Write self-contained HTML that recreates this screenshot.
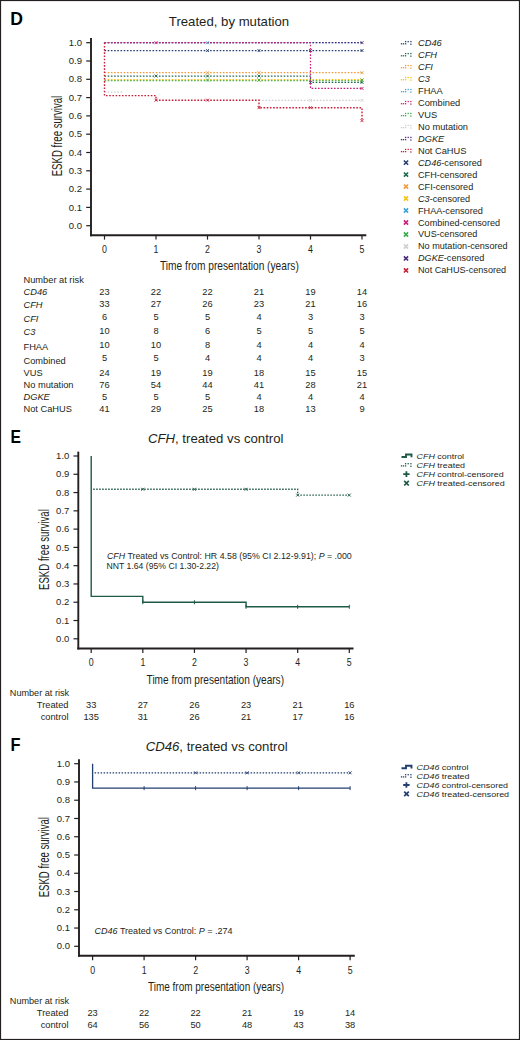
<!DOCTYPE html>
<html><head><meta charset="utf-8"><style>
html,body{margin:0;padding:0;background:#fff;}
body{width:520px;height:1040px;overflow:hidden;}
svg{display:block;font-family:"Liberation Sans",sans-serif;}
</style></head><body>
<svg width="520" height="1040" viewBox="0 0 520 1040">
<rect x="0" y="0" width="520" height="1040" fill="#fff"/>
<text x="10.3" y="24.6" font-size="17.6" text-anchor="start" fill="#000" font-weight="bold" >D</text>
<text transform="translate(229,25.9) scale(0.97,1)" font-size="13.6" text-anchor="middle" fill="#231f20" >Treated, by mutation</text>
<line x1="91" y1="38" x2="91" y2="236.14999999999998" stroke="#231f20" stroke-width="1.9" stroke-linecap="butt"/>
<line x1="90.05" y1="235.2" x2="366.3" y2="235.2" stroke="#231f20" stroke-width="1.9" stroke-linecap="butt"/>
<line x1="86.2" y1="42.69999999999999" x2="91" y2="42.69999999999999" stroke="#231f20" stroke-width="1.2" stroke-linecap="butt"/>
<text transform="translate(82.0,45.84999999999999) scale(0.97,1)" font-size="9.8" text-anchor="end" fill="#231f20" >1.0</text>
<line x1="86.2" y1="60.999999999999986" x2="91" y2="60.999999999999986" stroke="#231f20" stroke-width="1.2" stroke-linecap="butt"/>
<text transform="translate(82.0,64.14999999999999) scale(0.97,1)" font-size="9.8" text-anchor="end" fill="#231f20" >0.9</text>
<line x1="86.2" y1="79.29999999999998" x2="91" y2="79.29999999999998" stroke="#231f20" stroke-width="1.2" stroke-linecap="butt"/>
<text transform="translate(82.0,82.44999999999999) scale(0.97,1)" font-size="9.8" text-anchor="end" fill="#231f20" >0.8</text>
<line x1="86.2" y1="97.6" x2="91" y2="97.6" stroke="#231f20" stroke-width="1.2" stroke-linecap="butt"/>
<text transform="translate(82.0,100.75) scale(0.97,1)" font-size="9.8" text-anchor="end" fill="#231f20" >0.7</text>
<line x1="86.2" y1="115.89999999999999" x2="91" y2="115.89999999999999" stroke="#231f20" stroke-width="1.2" stroke-linecap="butt"/>
<text transform="translate(82.0,119.05) scale(0.97,1)" font-size="9.8" text-anchor="end" fill="#231f20" >0.6</text>
<line x1="86.2" y1="134.2" x2="91" y2="134.2" stroke="#231f20" stroke-width="1.2" stroke-linecap="butt"/>
<text transform="translate(82.0,137.35) scale(0.97,1)" font-size="9.8" text-anchor="end" fill="#231f20" >0.5</text>
<line x1="86.2" y1="152.5" x2="91" y2="152.5" stroke="#231f20" stroke-width="1.2" stroke-linecap="butt"/>
<text transform="translate(82.0,155.65) scale(0.97,1)" font-size="9.8" text-anchor="end" fill="#231f20" >0.4</text>
<line x1="86.2" y1="170.79999999999998" x2="91" y2="170.79999999999998" stroke="#231f20" stroke-width="1.2" stroke-linecap="butt"/>
<text transform="translate(82.0,173.95) scale(0.97,1)" font-size="9.8" text-anchor="end" fill="#231f20" >0.3</text>
<line x1="86.2" y1="189.1" x2="91" y2="189.1" stroke="#231f20" stroke-width="1.2" stroke-linecap="butt"/>
<text transform="translate(82.0,192.25) scale(0.97,1)" font-size="9.8" text-anchor="end" fill="#231f20" >0.2</text>
<line x1="86.2" y1="207.4" x2="91" y2="207.4" stroke="#231f20" stroke-width="1.2" stroke-linecap="butt"/>
<text transform="translate(82.0,210.55) scale(0.97,1)" font-size="9.8" text-anchor="end" fill="#231f20" >0.1</text>
<line x1="86.2" y1="225.7" x2="91" y2="225.7" stroke="#231f20" stroke-width="1.2" stroke-linecap="butt"/>
<text transform="translate(82.0,228.85) scale(0.97,1)" font-size="9.8" text-anchor="end" fill="#231f20" >0.0</text>
<line x1="104.5" y1="235.2" x2="104.5" y2="239.6" stroke="#231f20" stroke-width="1.2" stroke-linecap="butt"/>
<text transform="translate(104.5,252.6) scale(0.88,1)" font-size="10.0" text-anchor="middle" fill="#231f20" >0</text>
<line x1="156.0" y1="235.2" x2="156.0" y2="239.6" stroke="#231f20" stroke-width="1.2" stroke-linecap="butt"/>
<text transform="translate(156.0,252.6) scale(0.88,1)" font-size="10.0" text-anchor="middle" fill="#231f20" >1</text>
<line x1="207.5" y1="235.2" x2="207.5" y2="239.6" stroke="#231f20" stroke-width="1.2" stroke-linecap="butt"/>
<text transform="translate(207.5,252.6) scale(0.88,1)" font-size="10.0" text-anchor="middle" fill="#231f20" >2</text>
<line x1="259.0" y1="235.2" x2="259.0" y2="239.6" stroke="#231f20" stroke-width="1.2" stroke-linecap="butt"/>
<text transform="translate(259.0,252.6) scale(0.88,1)" font-size="10.0" text-anchor="middle" fill="#231f20" >3</text>
<line x1="310.5" y1="235.2" x2="310.5" y2="239.6" stroke="#231f20" stroke-width="1.2" stroke-linecap="butt"/>
<text transform="translate(310.5,252.6) scale(0.88,1)" font-size="10.0" text-anchor="middle" fill="#231f20" >4</text>
<line x1="362.0" y1="235.2" x2="362.0" y2="239.6" stroke="#231f20" stroke-width="1.2" stroke-linecap="butt"/>
<text transform="translate(362.0,252.6) scale(0.88,1)" font-size="10.0" text-anchor="middle" fill="#231f20" >5</text>
<text transform="translate(62.2,176.3) rotate(-90) scale(1.0,1)" font-size="14.2" text-anchor="start" fill="#231f20" textLength="80.5" lengthAdjust="spacingAndGlyphs" >ESKD free survival</text>
<text x="160.0" y="270.0" font-size="13" text-anchor="start" fill="#231f20" textLength="138.8" lengthAdjust="spacingAndGlyphs" >Time from presentation (years)</text>
<path d="M104.5,92.1H122.5V92.1" fill="none" stroke="#cfcfcf" stroke-width="1.25" stroke-dasharray="1.6 1.6" stroke-dashoffset="0"/>
<path d="M259.0,100.3H362.0V100.3" fill="none" stroke="#cfcfcf" stroke-width="1.25" stroke-dasharray="1.6 1.6" stroke-dashoffset="0"/>
<path d="M104.5,80.6H362.0V80.6" fill="none" stroke="#3bab4a" stroke-width="1.25" stroke-dasharray="1.6 1.6" stroke-dashoffset="0"/>
<path d="M104.5,79.5H362.0V79.5" fill="none" stroke="#f3c316" stroke-width="1.25" stroke-dasharray="1.6 1.6" stroke-dashoffset="0"/>
<path d="M104.5,72.7H362.0V72.7" fill="none" stroke="#f19a3a" stroke-width="1.25" stroke-dasharray="1.6 1.6" stroke-dashoffset="0"/>
<path d="M104.5,76.0H310.5V76.0H310.5V82.4H362.0V82.4" fill="none" stroke="#1c6b4f" stroke-width="1.25" stroke-dasharray="1.6 1.6" stroke-dashoffset="0"/>
<path d="M104.5,50.6H362.0V50.6" fill="none" stroke="#263f6e" stroke-width="1.25" stroke-dasharray="1.6 1.6" stroke-dashoffset="0"/>
<path d="M104.5,42.7H362.0V42.7" fill="none" stroke="#3ea3dc" stroke-width="1.25" stroke-dasharray="1.6 1.6" stroke-dashoffset="0"/>
<path d="M104.5,42.7H362.0V42.7" fill="none" stroke="#4b2a7b" stroke-width="1.25" stroke-dasharray="1.6 1.6" stroke-dashoffset="0"/>
<path d="M104.5,42.7H310.5V42.7H310.5V88.4H362.0V88.4" fill="none" stroke="#cc1f7a" stroke-width="1.25" stroke-dasharray="1.6 1.6" stroke-dashoffset="0"/>
<path d="M104.5,42.7H104.5V95.6H156.0V95.6H156.0V100.2H259.0V100.2H259.0V107.7H362.0V107.7H362.0V120.7" fill="none" stroke="#c8203a" stroke-width="1.4" stroke-dasharray="1.6 1.6" stroke-dashoffset="0"/>
<path d="M154.5,41.19999999999999L157.5,44.19999999999999M154.5,44.19999999999999L157.5,41.19999999999999" stroke="#cc1f7a" stroke-width="0.9" fill="none"/>
<path d="M206.0,41.19999999999999L209.0,44.19999999999999M206.0,44.19999999999999L209.0,41.19999999999999" stroke="#3ea3dc" stroke-width="0.9" fill="none"/>
<path d="M360.5,41.19999999999999L363.5,44.19999999999999M360.5,44.19999999999999L363.5,41.19999999999999" stroke="#4b2a7b" stroke-width="0.9" fill="none"/>
<path d="M206.0,49.06899999999999L209.0,52.06899999999999M206.0,52.06899999999999L209.0,49.06899999999999" stroke="#263f6e" stroke-width="0.9" fill="none"/>
<path d="M257.5,49.06899999999999L260.5,52.06899999999999M257.5,52.06899999999999L260.5,49.06899999999999" stroke="#263f6e" stroke-width="0.9" fill="none"/>
<path d="M309.0,49.06899999999999L312.0,52.06899999999999M309.0,52.06899999999999L312.0,49.06899999999999" stroke="#263f6e" stroke-width="0.9" fill="none"/>
<path d="M360.5,49.06899999999999L363.5,52.06899999999999M360.5,52.06899999999999L363.5,49.06899999999999" stroke="#263f6e" stroke-width="0.9" fill="none"/>
<path d="M154.5,74.506L157.5,77.506M154.5,77.506L157.5,74.506" stroke="#1c6b4f" stroke-width="0.9" fill="none"/>
<path d="M206.0,74.506L209.0,77.506M206.0,77.506L209.0,74.506" stroke="#1c6b4f" stroke-width="0.9" fill="none"/>
<path d="M257.5,74.506L260.5,77.506M257.5,77.506L260.5,74.506" stroke="#1c6b4f" stroke-width="0.9" fill="none"/>
<path d="M309.0,80.91099999999997L312.0,83.91099999999997M309.0,83.91099999999997L312.0,80.91099999999997" stroke="#1c6b4f" stroke-width="0.9" fill="none"/>
<path d="M360.5,80.91099999999997L363.5,83.91099999999997M360.5,83.91099999999997L363.5,80.91099999999997" stroke="#1c6b4f" stroke-width="0.9" fill="none"/>
<path d="M206.0,71.21199999999999L209.0,74.21199999999999M206.0,74.21199999999999L209.0,71.21199999999999" stroke="#f19a3a" stroke-width="0.9" fill="none"/>
<path d="M257.5,71.21199999999999L260.5,74.21199999999999M257.5,74.21199999999999L260.5,71.21199999999999" stroke="#f19a3a" stroke-width="0.9" fill="none"/>
<path d="M360.5,71.21199999999999L363.5,74.21199999999999M360.5,74.21199999999999L363.5,71.21199999999999" stroke="#f19a3a" stroke-width="0.9" fill="none"/>
<path d="M257.5,78.53199999999998L260.5,81.53199999999998M257.5,81.53199999999998L260.5,78.53199999999998" stroke="#f3c316" stroke-width="0.9" fill="none"/>
<path d="M360.5,78.53199999999998L363.5,81.53199999999998M360.5,81.53199999999998L363.5,78.53199999999998" stroke="#f3c316" stroke-width="0.9" fill="none"/>
<path d="M206.0,78.53199999999998L209.0,81.53199999999998M206.0,81.53199999999998L209.0,78.53199999999998" stroke="#3bab4a" stroke-width="0.9" fill="none"/>
<path d="M257.5,78.53199999999998L260.5,81.53199999999998M257.5,81.53199999999998L260.5,78.53199999999998" stroke="#3bab4a" stroke-width="0.9" fill="none"/>
<path d="M360.5,78.53199999999998L363.5,81.53199999999998M360.5,81.53199999999998L363.5,78.53199999999998" stroke="#3bab4a" stroke-width="0.9" fill="none"/>
<path d="M360.5,86.94999999999999L363.5,89.94999999999999M360.5,89.94999999999999L363.5,86.94999999999999" stroke="#cc1f7a" stroke-width="0.9" fill="none"/>
<path d="M154.5,98.66199999999998L157.5,101.66199999999998M154.5,101.66199999999998L157.5,98.66199999999998" stroke="#c8203a" stroke-width="0.9" fill="none"/>
<path d="M206.0,98.66199999999998L209.0,101.66199999999998M206.0,101.66199999999998L209.0,98.66199999999998" stroke="#c8203a" stroke-width="0.9" fill="none"/>
<path d="M257.5,106.16499999999999L260.5,109.16499999999999M257.5,109.16499999999999L260.5,106.16499999999999" stroke="#c8203a" stroke-width="0.9" fill="none"/>
<path d="M309.0,106.16499999999999L312.0,109.16499999999999M309.0,109.16499999999999L312.0,106.16499999999999" stroke="#c8203a" stroke-width="0.9" fill="none"/>
<path d="M360.5,119.158L363.5,122.158M360.5,122.158L363.5,119.158" stroke="#c8203a" stroke-width="0.9" fill="none"/>
<path d="M309.0,98.84499999999998L312.0,101.84499999999998M309.0,101.84499999999998L312.0,98.84499999999998" stroke="#cfcfcf" stroke-width="0.9" fill="none"/>
<path d="M360.5,98.84499999999998L363.5,101.84499999999998M360.5,101.84499999999998L363.5,98.84499999999998" stroke="#cfcfcf" stroke-width="0.9" fill="none"/>
<rect x="400.85" y="43.15" width="1.3" height="1.3" fill="#263f6e"/>
<rect x="402.85" y="43.15" width="1.3" height="1.3" fill="#263f6e"/>
<rect x="404.95" y="43.15" width="1.3" height="1.3" fill="#263f6e"/>
<rect x="404.95" y="40.95" width="1.3" height="1.3" fill="#263f6e"/>
<rect x="407.55" y="40.95" width="1.3" height="1.3" fill="#263f6e"/>
<rect x="410.25" y="40.95" width="1.3" height="1.3" fill="#263f6e"/>
<rect x="410.25" y="43.55" width="1.3" height="1.3" fill="#263f6e"/>
<text transform="translate(418,45.8) scale(1.08,1)" font-size="8.6" text-anchor="start" fill="#231f20"><tspan font-style="italic">CD46</tspan></text>
<rect x="400.85" y="55.13" width="1.3" height="1.3" fill="#1c6b4f"/>
<rect x="402.85" y="55.13" width="1.3" height="1.3" fill="#1c6b4f"/>
<rect x="404.95" y="55.13" width="1.3" height="1.3" fill="#1c6b4f"/>
<rect x="404.95" y="52.93" width="1.3" height="1.3" fill="#1c6b4f"/>
<rect x="407.55" y="52.93" width="1.3" height="1.3" fill="#1c6b4f"/>
<rect x="410.25" y="52.93" width="1.3" height="1.3" fill="#1c6b4f"/>
<rect x="410.25" y="55.53" width="1.3" height="1.3" fill="#1c6b4f"/>
<text transform="translate(418,57.78) scale(1.08,1)" font-size="8.6" text-anchor="start" fill="#231f20"><tspan font-style="italic">CFH</tspan></text>
<rect x="400.85" y="67.11" width="1.3" height="1.3" fill="#f19a3a"/>
<rect x="402.85" y="67.11" width="1.3" height="1.3" fill="#f19a3a"/>
<rect x="404.95" y="67.11" width="1.3" height="1.3" fill="#f19a3a"/>
<rect x="404.95" y="64.91" width="1.3" height="1.3" fill="#f19a3a"/>
<rect x="407.55" y="64.91" width="1.3" height="1.3" fill="#f19a3a"/>
<rect x="410.25" y="64.91" width="1.3" height="1.3" fill="#f19a3a"/>
<rect x="410.25" y="67.51" width="1.3" height="1.3" fill="#f19a3a"/>
<text transform="translate(418,69.75999999999999) scale(1.08,1)" font-size="8.6" text-anchor="start" fill="#231f20"><tspan font-style="italic">CFI</tspan></text>
<rect x="400.85" y="79.09" width="1.3" height="1.3" fill="#f3c316"/>
<rect x="402.85" y="79.09" width="1.3" height="1.3" fill="#f3c316"/>
<rect x="404.95" y="79.09" width="1.3" height="1.3" fill="#f3c316"/>
<rect x="404.95" y="76.89" width="1.3" height="1.3" fill="#f3c316"/>
<rect x="407.55" y="76.89" width="1.3" height="1.3" fill="#f3c316"/>
<rect x="410.25" y="76.89" width="1.3" height="1.3" fill="#f3c316"/>
<rect x="410.25" y="79.49" width="1.3" height="1.3" fill="#f3c316"/>
<text transform="translate(418,81.74) scale(1.08,1)" font-size="8.6" text-anchor="start" fill="#231f20"><tspan font-style="italic">C3</tspan></text>
<rect x="400.85" y="91.07" width="1.3" height="1.3" fill="#3ea3dc"/>
<rect x="402.85" y="91.07" width="1.3" height="1.3" fill="#3ea3dc"/>
<rect x="404.95" y="91.07" width="1.3" height="1.3" fill="#3ea3dc"/>
<rect x="404.95" y="88.87" width="1.3" height="1.3" fill="#3ea3dc"/>
<rect x="407.55" y="88.87" width="1.3" height="1.3" fill="#3ea3dc"/>
<rect x="410.25" y="88.87" width="1.3" height="1.3" fill="#3ea3dc"/>
<rect x="410.25" y="91.47" width="1.3" height="1.3" fill="#3ea3dc"/>
<text transform="translate(418,93.72) scale(1.08,1)" font-size="8.6" text-anchor="start" fill="#231f20">FHAA</text>
<rect x="400.85" y="103.05" width="1.3" height="1.3" fill="#cc1f7a"/>
<rect x="402.85" y="103.05" width="1.3" height="1.3" fill="#cc1f7a"/>
<rect x="404.95" y="103.05" width="1.3" height="1.3" fill="#cc1f7a"/>
<rect x="404.95" y="100.85" width="1.3" height="1.3" fill="#cc1f7a"/>
<rect x="407.55" y="100.85" width="1.3" height="1.3" fill="#cc1f7a"/>
<rect x="410.25" y="100.85" width="1.3" height="1.3" fill="#cc1f7a"/>
<rect x="410.25" y="103.45" width="1.3" height="1.3" fill="#cc1f7a"/>
<text transform="translate(418,105.7) scale(1.08,1)" font-size="8.6" text-anchor="start" fill="#231f20">Combined</text>
<rect x="400.85" y="115.03" width="1.3" height="1.3" fill="#3bab4a"/>
<rect x="402.85" y="115.03" width="1.3" height="1.3" fill="#3bab4a"/>
<rect x="404.95" y="115.03" width="1.3" height="1.3" fill="#3bab4a"/>
<rect x="404.95" y="112.83" width="1.3" height="1.3" fill="#3bab4a"/>
<rect x="407.55" y="112.83" width="1.3" height="1.3" fill="#3bab4a"/>
<rect x="410.25" y="112.83" width="1.3" height="1.3" fill="#3bab4a"/>
<rect x="410.25" y="115.43" width="1.3" height="1.3" fill="#3bab4a"/>
<text transform="translate(418,117.67999999999999) scale(1.08,1)" font-size="8.6" text-anchor="start" fill="#231f20">VUS</text>
<rect x="400.85" y="127.01" width="1.3" height="1.3" fill="#cfcfcf"/>
<rect x="402.85" y="127.01" width="1.3" height="1.3" fill="#cfcfcf"/>
<rect x="404.95" y="127.01" width="1.3" height="1.3" fill="#cfcfcf"/>
<rect x="404.95" y="124.81" width="1.3" height="1.3" fill="#cfcfcf"/>
<rect x="407.55" y="124.81" width="1.3" height="1.3" fill="#cfcfcf"/>
<rect x="410.25" y="124.81" width="1.3" height="1.3" fill="#cfcfcf"/>
<rect x="410.25" y="127.41" width="1.3" height="1.3" fill="#cfcfcf"/>
<text transform="translate(418,129.66) scale(1.08,1)" font-size="8.6" text-anchor="start" fill="#231f20">No mutation</text>
<rect x="400.85" y="138.99" width="1.3" height="1.3" fill="#4b2a7b"/>
<rect x="402.85" y="138.99" width="1.3" height="1.3" fill="#4b2a7b"/>
<rect x="404.95" y="138.99" width="1.3" height="1.3" fill="#4b2a7b"/>
<rect x="404.95" y="136.79" width="1.3" height="1.3" fill="#4b2a7b"/>
<rect x="407.55" y="136.79" width="1.3" height="1.3" fill="#4b2a7b"/>
<rect x="410.25" y="136.79" width="1.3" height="1.3" fill="#4b2a7b"/>
<rect x="410.25" y="139.39" width="1.3" height="1.3" fill="#4b2a7b"/>
<text transform="translate(418,141.64) scale(1.08,1)" font-size="8.6" text-anchor="start" fill="#231f20"><tspan font-style="italic">DGKE</tspan></text>
<rect x="400.85" y="150.97" width="1.3" height="1.3" fill="#c8203a"/>
<rect x="402.85" y="150.97" width="1.3" height="1.3" fill="#c8203a"/>
<rect x="404.95" y="150.97" width="1.3" height="1.3" fill="#c8203a"/>
<rect x="404.95" y="148.77" width="1.3" height="1.3" fill="#c8203a"/>
<rect x="407.55" y="148.77" width="1.3" height="1.3" fill="#c8203a"/>
<rect x="410.25" y="148.77" width="1.3" height="1.3" fill="#c8203a"/>
<rect x="410.25" y="151.37" width="1.3" height="1.3" fill="#c8203a"/>
<text transform="translate(418,153.62) scale(1.08,1)" font-size="8.6" text-anchor="start" fill="#231f20">Not CaHUS</text>
<path d="M403.9,160.50000000000003L408.1,164.70000000000002M403.9,164.70000000000002L408.1,160.50000000000003" stroke="#263f6e" stroke-width="1.6" fill="none"/>
<text transform="translate(418,165.60000000000002) scale(1.06,1)" font-size="8.6" text-anchor="start" fill="#231f20"><tspan font-style="italic">CD46</tspan>-censored</text>
<path d="M403.9,172.48L408.1,176.67999999999998M403.9,176.67999999999998L408.1,172.48" stroke="#1c6b4f" stroke-width="1.6" fill="none"/>
<text transform="translate(418,177.57999999999998) scale(1.06,1)" font-size="8.6" text-anchor="start" fill="#231f20">CFH-censored</text>
<path d="M403.9,184.46L408.1,188.66M403.9,188.66L408.1,184.46" stroke="#f19a3a" stroke-width="1.6" fill="none"/>
<text transform="translate(418,189.56) scale(1.06,1)" font-size="8.6" text-anchor="start" fill="#231f20">CFI-censored</text>
<path d="M403.9,196.44000000000003L408.1,200.64000000000001M403.9,200.64000000000001L408.1,196.44000000000003" stroke="#f3c316" stroke-width="1.6" fill="none"/>
<text transform="translate(418,201.54000000000002) scale(1.06,1)" font-size="8.6" text-anchor="start" fill="#231f20"><tspan font-style="italic">C3</tspan>-censored</text>
<path d="M403.9,208.42L408.1,212.61999999999998M403.9,212.61999999999998L408.1,208.42" stroke="#3ea3dc" stroke-width="1.6" fill="none"/>
<text transform="translate(418,213.51999999999998) scale(1.06,1)" font-size="8.6" text-anchor="start" fill="#231f20">FHAA-censored</text>
<path d="M403.9,220.4L408.1,224.6M403.9,224.6L408.1,220.4" stroke="#cc1f7a" stroke-width="1.6" fill="none"/>
<text transform="translate(418,225.5) scale(1.06,1)" font-size="8.6" text-anchor="start" fill="#231f20">Combined-censored</text>
<path d="M403.9,232.38000000000002L408.1,236.58M403.9,236.58L408.1,232.38000000000002" stroke="#3bab4a" stroke-width="1.6" fill="none"/>
<text transform="translate(418,237.48000000000002) scale(1.06,1)" font-size="8.6" text-anchor="start" fill="#231f20">VUS-censored</text>
<path d="M403.9,244.35999999999999L408.1,248.55999999999997M403.9,248.55999999999997L408.1,244.35999999999999" stroke="#cfcfcf" stroke-width="1.6" fill="none"/>
<text transform="translate(418,249.45999999999998) scale(1.06,1)" font-size="8.6" text-anchor="start" fill="#231f20">No mutation-censored</text>
<path d="M403.9,256.34L408.1,260.54M403.9,260.54L408.1,256.34" stroke="#4b2a7b" stroke-width="1.6" fill="none"/>
<text transform="translate(418,261.44) scale(1.06,1)" font-size="8.6" text-anchor="start" fill="#231f20"><tspan font-style="italic">DGKE</tspan>-censored</text>
<path d="M403.9,268.32L408.1,272.52000000000004M403.9,272.52000000000004L408.1,268.32" stroke="#c8203a" stroke-width="1.6" fill="none"/>
<text transform="translate(418,273.42) scale(1.06,1)" font-size="8.6" text-anchor="start" fill="#231f20">Not CaHUS-censored</text>
<text transform="translate(23.5,282.6) scale(1.08,1)" font-size="8.6" text-anchor="start" fill="#231f20">Number at risk</text>
<text transform="translate(23.5,295.3) scale(1.08,1)" font-size="8.6" text-anchor="start" fill="#231f20"><tspan font-style="italic">CD46</tspan></text>
<text transform="translate(104.5,295.0) scale(1.08,1)" font-size="8.6" text-anchor="middle" fill="#231f20">23</text>
<text transform="translate(156.0,295.0) scale(1.08,1)" font-size="8.6" text-anchor="middle" fill="#231f20">22</text>
<text transform="translate(207.5,295.0) scale(1.08,1)" font-size="8.6" text-anchor="middle" fill="#231f20">22</text>
<text transform="translate(259.0,295.0) scale(1.08,1)" font-size="8.6" text-anchor="middle" fill="#231f20">21</text>
<text transform="translate(310.5,295.0) scale(1.08,1)" font-size="8.6" text-anchor="middle" fill="#231f20">19</text>
<text transform="translate(362.0,295.0) scale(1.08,1)" font-size="8.6" text-anchor="middle" fill="#231f20">14</text>
<text transform="translate(23.5,307.5) scale(1.08,1)" font-size="8.6" text-anchor="start" fill="#231f20"><tspan font-style="italic">CFH</tspan></text>
<text transform="translate(104.5,307.1) scale(1.08,1)" font-size="8.6" text-anchor="middle" fill="#231f20">33</text>
<text transform="translate(156.0,307.1) scale(1.08,1)" font-size="8.6" text-anchor="middle" fill="#231f20">27</text>
<text transform="translate(207.5,307.1) scale(1.08,1)" font-size="8.6" text-anchor="middle" fill="#231f20">26</text>
<text transform="translate(259.0,307.1) scale(1.08,1)" font-size="8.6" text-anchor="middle" fill="#231f20">23</text>
<text transform="translate(310.5,307.1) scale(1.08,1)" font-size="8.6" text-anchor="middle" fill="#231f20">21</text>
<text transform="translate(362.0,307.1) scale(1.08,1)" font-size="8.6" text-anchor="middle" fill="#231f20">16</text>
<text transform="translate(23.5,321.5) scale(1.08,1)" font-size="8.6" text-anchor="start" fill="#231f20"><tspan font-style="italic">CFI</tspan></text>
<text transform="translate(104.5,319.5) scale(1.08,1)" font-size="8.6" text-anchor="middle" fill="#231f20">6</text>
<text transform="translate(156.0,319.5) scale(1.08,1)" font-size="8.6" text-anchor="middle" fill="#231f20">5</text>
<text transform="translate(207.5,319.5) scale(1.08,1)" font-size="8.6" text-anchor="middle" fill="#231f20">5</text>
<text transform="translate(259.0,319.5) scale(1.08,1)" font-size="8.6" text-anchor="middle" fill="#231f20">4</text>
<text transform="translate(310.5,319.5) scale(1.08,1)" font-size="8.6" text-anchor="middle" fill="#231f20">3</text>
<text transform="translate(362.0,319.5) scale(1.08,1)" font-size="8.6" text-anchor="middle" fill="#231f20">3</text>
<text transform="translate(23.5,334.70000000000005) scale(1.08,1)" font-size="8.6" text-anchor="start" fill="#231f20"><tspan font-style="italic">C3</tspan></text>
<text transform="translate(104.5,333.5) scale(1.08,1)" font-size="8.6" text-anchor="middle" fill="#231f20">10</text>
<text transform="translate(156.0,333.5) scale(1.08,1)" font-size="8.6" text-anchor="middle" fill="#231f20">8</text>
<text transform="translate(207.5,333.5) scale(1.08,1)" font-size="8.6" text-anchor="middle" fill="#231f20">6</text>
<text transform="translate(259.0,333.5) scale(1.08,1)" font-size="8.6" text-anchor="middle" fill="#231f20">5</text>
<text transform="translate(310.5,333.5) scale(1.08,1)" font-size="8.6" text-anchor="middle" fill="#231f20">5</text>
<text transform="translate(362.0,333.5) scale(1.08,1)" font-size="8.6" text-anchor="middle" fill="#231f20">5</text>
<text transform="translate(23.5,349.5) scale(1.08,1)" font-size="8.6" text-anchor="start" fill="#231f20">FHAA</text>
<text transform="translate(104.5,347.5) scale(1.08,1)" font-size="8.6" text-anchor="middle" fill="#231f20">10</text>
<text transform="translate(156.0,347.5) scale(1.08,1)" font-size="8.6" text-anchor="middle" fill="#231f20">10</text>
<text transform="translate(207.5,347.5) scale(1.08,1)" font-size="8.6" text-anchor="middle" fill="#231f20">8</text>
<text transform="translate(259.0,347.5) scale(1.08,1)" font-size="8.6" text-anchor="middle" fill="#231f20">4</text>
<text transform="translate(310.5,347.5) scale(1.08,1)" font-size="8.6" text-anchor="middle" fill="#231f20">4</text>
<text transform="translate(362.0,347.5) scale(1.08,1)" font-size="8.6" text-anchor="middle" fill="#231f20">4</text>
<text transform="translate(23.5,364.0) scale(1.08,1)" font-size="8.6" text-anchor="start" fill="#231f20">Combined</text>
<text transform="translate(104.5,360.90000000000003) scale(1.08,1)" font-size="8.6" text-anchor="middle" fill="#231f20">5</text>
<text transform="translate(156.0,360.90000000000003) scale(1.08,1)" font-size="8.6" text-anchor="middle" fill="#231f20">5</text>
<text transform="translate(207.5,360.90000000000003) scale(1.08,1)" font-size="8.6" text-anchor="middle" fill="#231f20">4</text>
<text transform="translate(259.0,360.90000000000003) scale(1.08,1)" font-size="8.6" text-anchor="middle" fill="#231f20">4</text>
<text transform="translate(310.5,360.90000000000003) scale(1.08,1)" font-size="8.6" text-anchor="middle" fill="#231f20">4</text>
<text transform="translate(362.0,360.90000000000003) scale(1.08,1)" font-size="8.6" text-anchor="middle" fill="#231f20">3</text>
<text transform="translate(23.5,375.90000000000003) scale(1.08,1)" font-size="8.6" text-anchor="start" fill="#231f20">VUS</text>
<text transform="translate(104.5,375.8) scale(1.08,1)" font-size="8.6" text-anchor="middle" fill="#231f20">24</text>
<text transform="translate(156.0,375.8) scale(1.08,1)" font-size="8.6" text-anchor="middle" fill="#231f20">19</text>
<text transform="translate(207.5,375.8) scale(1.08,1)" font-size="8.6" text-anchor="middle" fill="#231f20">19</text>
<text transform="translate(259.0,375.8) scale(1.08,1)" font-size="8.6" text-anchor="middle" fill="#231f20">18</text>
<text transform="translate(310.5,375.8) scale(1.08,1)" font-size="8.6" text-anchor="middle" fill="#231f20">15</text>
<text transform="translate(362.0,375.8) scale(1.08,1)" font-size="8.6" text-anchor="middle" fill="#231f20">15</text>
<text transform="translate(23.5,387.8) scale(1.08,1)" font-size="8.6" text-anchor="start" fill="#231f20">No mutation</text>
<text transform="translate(104.5,387.8) scale(1.08,1)" font-size="8.6" text-anchor="middle" fill="#231f20">76</text>
<text transform="translate(156.0,387.8) scale(1.08,1)" font-size="8.6" text-anchor="middle" fill="#231f20">54</text>
<text transform="translate(207.5,387.8) scale(1.08,1)" font-size="8.6" text-anchor="middle" fill="#231f20">44</text>
<text transform="translate(259.0,387.8) scale(1.08,1)" font-size="8.6" text-anchor="middle" fill="#231f20">41</text>
<text transform="translate(310.5,387.8) scale(1.08,1)" font-size="8.6" text-anchor="middle" fill="#231f20">28</text>
<text transform="translate(362.0,387.8) scale(1.08,1)" font-size="8.6" text-anchor="middle" fill="#231f20">21</text>
<text transform="translate(23.5,399.90000000000003) scale(1.08,1)" font-size="8.6" text-anchor="start" fill="#231f20"><tspan font-style="italic">DGKE</tspan></text>
<text transform="translate(104.5,399.90000000000003) scale(1.08,1)" font-size="8.6" text-anchor="middle" fill="#231f20">5</text>
<text transform="translate(156.0,399.90000000000003) scale(1.08,1)" font-size="8.6" text-anchor="middle" fill="#231f20">5</text>
<text transform="translate(207.5,399.90000000000003) scale(1.08,1)" font-size="8.6" text-anchor="middle" fill="#231f20">5</text>
<text transform="translate(259.0,399.90000000000003) scale(1.08,1)" font-size="8.6" text-anchor="middle" fill="#231f20">4</text>
<text transform="translate(310.5,399.90000000000003) scale(1.08,1)" font-size="8.6" text-anchor="middle" fill="#231f20">4</text>
<text transform="translate(362.0,399.90000000000003) scale(1.08,1)" font-size="8.6" text-anchor="middle" fill="#231f20">4</text>
<text transform="translate(23.5,411.5) scale(1.08,1)" font-size="8.6" text-anchor="start" fill="#231f20">Not CaHUS</text>
<text transform="translate(104.5,411.5) scale(1.08,1)" font-size="8.6" text-anchor="middle" fill="#231f20">41</text>
<text transform="translate(156.0,411.5) scale(1.08,1)" font-size="8.6" text-anchor="middle" fill="#231f20">29</text>
<text transform="translate(207.5,411.5) scale(1.08,1)" font-size="8.6" text-anchor="middle" fill="#231f20">25</text>
<text transform="translate(259.0,411.5) scale(1.08,1)" font-size="8.6" text-anchor="middle" fill="#231f20">18</text>
<text transform="translate(310.5,411.5) scale(1.08,1)" font-size="8.6" text-anchor="middle" fill="#231f20">13</text>
<text transform="translate(362.0,411.5) scale(1.08,1)" font-size="8.6" text-anchor="middle" fill="#231f20">9</text>
<text transform="translate(10.4,442.5) scale(0.89,1)" font-size="17.6" text-anchor="start" fill="#000" font-weight="bold" >E</text>
<text transform="translate(215.7,443.4) scale(1.03,1)" font-size="12.8" text-anchor="middle" fill="#231f20"><tspan font-style="italic">CFH</tspan>, treated vs control</text>
<line x1="78.3" y1="451.6" x2="78.3" y2="649.45" stroke="#231f20" stroke-width="1.9" stroke-linecap="butt"/>
<line x1="77.35" y1="648.5" x2="353.5" y2="648.5" stroke="#231f20" stroke-width="1.9" stroke-linecap="butt"/>
<line x1="73.5" y1="455.99999999999994" x2="78.3" y2="455.99999999999994" stroke="#231f20" stroke-width="1.2" stroke-linecap="butt"/>
<text transform="translate(69.3,459.1499999999999) scale(0.97,1)" font-size="9.8" text-anchor="end" fill="#231f20" >1.0</text>
<line x1="73.5" y1="474.28" x2="78.3" y2="474.28" stroke="#231f20" stroke-width="1.2" stroke-linecap="butt"/>
<text transform="translate(69.3,477.42999999999995) scale(0.97,1)" font-size="9.8" text-anchor="end" fill="#231f20" >0.9</text>
<line x1="73.5" y1="492.55999999999995" x2="78.3" y2="492.55999999999995" stroke="#231f20" stroke-width="1.2" stroke-linecap="butt"/>
<text transform="translate(69.3,495.7099999999999) scale(0.97,1)" font-size="9.8" text-anchor="end" fill="#231f20" >0.8</text>
<line x1="73.5" y1="510.8399999999999" x2="78.3" y2="510.8399999999999" stroke="#231f20" stroke-width="1.2" stroke-linecap="butt"/>
<text transform="translate(69.3,513.9899999999999) scale(0.97,1)" font-size="9.8" text-anchor="end" fill="#231f20" >0.7</text>
<line x1="73.5" y1="529.1199999999999" x2="78.3" y2="529.1199999999999" stroke="#231f20" stroke-width="1.2" stroke-linecap="butt"/>
<text transform="translate(69.3,532.2699999999999) scale(0.97,1)" font-size="9.8" text-anchor="end" fill="#231f20" >0.6</text>
<line x1="73.5" y1="547.4" x2="78.3" y2="547.4" stroke="#231f20" stroke-width="1.2" stroke-linecap="butt"/>
<text transform="translate(69.3,550.55) scale(0.97,1)" font-size="9.8" text-anchor="end" fill="#231f20" >0.5</text>
<line x1="73.5" y1="565.68" x2="78.3" y2="565.68" stroke="#231f20" stroke-width="1.2" stroke-linecap="butt"/>
<text transform="translate(69.3,568.8299999999999) scale(0.97,1)" font-size="9.8" text-anchor="end" fill="#231f20" >0.4</text>
<line x1="73.5" y1="583.9599999999999" x2="78.3" y2="583.9599999999999" stroke="#231f20" stroke-width="1.2" stroke-linecap="butt"/>
<text transform="translate(69.3,587.1099999999999) scale(0.97,1)" font-size="9.8" text-anchor="end" fill="#231f20" >0.3</text>
<line x1="73.5" y1="602.24" x2="78.3" y2="602.24" stroke="#231f20" stroke-width="1.2" stroke-linecap="butt"/>
<text transform="translate(69.3,605.39) scale(0.97,1)" font-size="9.8" text-anchor="end" fill="#231f20" >0.2</text>
<line x1="73.5" y1="620.52" x2="78.3" y2="620.52" stroke="#231f20" stroke-width="1.2" stroke-linecap="butt"/>
<text transform="translate(69.3,623.67) scale(0.97,1)" font-size="9.8" text-anchor="end" fill="#231f20" >0.1</text>
<line x1="73.5" y1="638.8" x2="78.3" y2="638.8" stroke="#231f20" stroke-width="1.2" stroke-linecap="butt"/>
<text transform="translate(69.3,641.9499999999999) scale(0.97,1)" font-size="9.8" text-anchor="end" fill="#231f20" >0.0</text>
<line x1="91.2" y1="648.5" x2="91.2" y2="652.9" stroke="#231f20" stroke-width="1.2" stroke-linecap="butt"/>
<text transform="translate(91.2,666.1) scale(0.88,1)" font-size="10.0" text-anchor="middle" fill="#231f20" >0</text>
<line x1="142.82" y1="648.5" x2="142.82" y2="652.9" stroke="#231f20" stroke-width="1.2" stroke-linecap="butt"/>
<text transform="translate(142.82,666.1) scale(0.88,1)" font-size="10.0" text-anchor="middle" fill="#231f20" >1</text>
<line x1="194.44" y1="648.5" x2="194.44" y2="652.9" stroke="#231f20" stroke-width="1.2" stroke-linecap="butt"/>
<text transform="translate(194.44,666.1) scale(0.88,1)" font-size="10.0" text-anchor="middle" fill="#231f20" >2</text>
<line x1="246.06" y1="648.5" x2="246.06" y2="652.9" stroke="#231f20" stroke-width="1.2" stroke-linecap="butt"/>
<text transform="translate(246.06,666.1) scale(0.88,1)" font-size="10.0" text-anchor="middle" fill="#231f20" >3</text>
<line x1="297.68" y1="648.5" x2="297.68" y2="652.9" stroke="#231f20" stroke-width="1.2" stroke-linecap="butt"/>
<text transform="translate(297.68,666.1) scale(0.88,1)" font-size="10.0" text-anchor="middle" fill="#231f20" >4</text>
<line x1="349.29999999999995" y1="648.5" x2="349.29999999999995" y2="652.9" stroke="#231f20" stroke-width="1.2" stroke-linecap="butt"/>
<text transform="translate(349.29999999999995,666.1) scale(0.88,1)" font-size="10.0" text-anchor="middle" fill="#231f20" >5</text>
<text transform="translate(49.1,590.0) rotate(-90) scale(1.0,1)" font-size="14.2" text-anchor="start" fill="#231f20" textLength="80.8" lengthAdjust="spacingAndGlyphs" >ESKD free survival</text>
<text x="146.6" y="683.5" font-size="13" text-anchor="start" fill="#231f20" textLength="137.4" lengthAdjust="spacingAndGlyphs" >Time from presentation (years)</text>
<path d="M91.2,455.99999999999994V596.3904H142.82V602.24H246.06V606.81H349.29999999999995" fill="none" stroke="#1e5b45" stroke-width="1.4" opacity="1"/>
<path d="M93.2,489.26959999999997H297.68V495.1192H349.29999999999995" fill="none" stroke="#1e5b45" stroke-width="1.3" stroke-dasharray="1.5 1.5" opacity="1"/>
<path d="M142.82,600.24V604.24" stroke="#1e5b45" stroke-width="1.0" fill="none"/>
<path d="M194.44,600.24V604.24" stroke="#1e5b45" stroke-width="1.0" fill="none"/>
<path d="M246.06,604.81V608.81" stroke="#1e5b45" stroke-width="1.0" fill="none"/>
<path d="M297.68,604.81V608.81" stroke="#1e5b45" stroke-width="1.0" fill="none"/>
<path d="M349.29999999999995,604.81V608.81" stroke="#1e5b45" stroke-width="1.0" fill="none"/>
<path d="M141.32,487.76959999999997L144.32,490.76959999999997M141.32,490.76959999999997L144.32,487.76959999999997" stroke="#1e5b45" stroke-width="0.9" fill="none"/>
<path d="M192.94,487.76959999999997L195.94,490.76959999999997M192.94,490.76959999999997L195.94,487.76959999999997" stroke="#1e5b45" stroke-width="0.9" fill="none"/>
<path d="M244.56,487.76959999999997L247.56,490.76959999999997M244.56,490.76959999999997L247.56,487.76959999999997" stroke="#1e5b45" stroke-width="0.9" fill="none"/>
<path d="M296.18,493.6192L299.18,496.6192M296.18,496.6192L299.18,493.6192" stroke="#1e5b45" stroke-width="0.9" fill="none"/>
<path d="M347.79999999999995,493.6192L350.79999999999995,496.6192M347.79999999999995,496.6192L350.79999999999995,493.6192" stroke="#1e5b45" stroke-width="0.9" fill="none"/>
<text transform="translate(107,558.7) scale(1.05,1)" font-size="8.4" text-anchor="start" fill="#231f20"><tspan font-style="italic">CFH</tspan> Treated vs Control: HR 4.58 (95% CI 2.12-9.91); <tspan font-style="italic">P</tspan> = .000</text>
<text transform="translate(106.6,568.7) scale(1.03,1)" font-size="8.4" text-anchor="start" fill="#231f20">NNT 1.64 (95% CI 1.30-2.22)</text>
<path d="M401.5,457.0H406V454.5H411.5V457.3" fill="none" stroke="#1e5b45" stroke-width="1.9" opacity="1"/>
<rect x="400.85" y="465.25" width="1.3" height="1.3" fill="#1e5b45"/>
<rect x="402.85" y="465.25" width="1.3" height="1.3" fill="#1e5b45"/>
<rect x="404.95" y="465.25" width="1.3" height="1.3" fill="#1e5b45"/>
<rect x="404.95" y="463.05" width="1.3" height="1.3" fill="#1e5b45"/>
<rect x="407.55" y="463.05" width="1.3" height="1.3" fill="#1e5b45"/>
<rect x="410.25" y="463.05" width="1.3" height="1.3" fill="#1e5b45"/>
<rect x="410.25" y="465.65" width="1.3" height="1.3" fill="#1e5b45"/>
<path d="M406.4,471.3V476.90000000000003M403.2,474.1H409.6" stroke="#1e5b45" stroke-width="1.8"/>
<path d="M404.2,480.9L408.8,485.5M404.2,485.5L408.8,480.9" stroke="#1e5b45" stroke-width="1.7" fill="none"/>
<text transform="translate(416.6,458.59999999999997) scale(1.1,1)" font-size="8.1" text-anchor="start" fill="#231f20"><tspan font-style="italic">CFH</tspan> control</text>
<text transform="translate(416.6,467.79999999999995) scale(1.1,1)" font-size="8.1" text-anchor="start" fill="#231f20"><tspan font-style="italic">CFH</tspan> treated</text>
<text transform="translate(416.6,477.0) scale(1.1,1)" font-size="8.1" text-anchor="start" fill="#231f20"><tspan font-style="italic">CFH</tspan> control-censored</text>
<text transform="translate(416.6,486.09999999999997) scale(1.1,1)" font-size="8.1" text-anchor="start" fill="#231f20"><tspan font-style="italic">CFH</tspan> treated-censored</text>
<text transform="translate(9.8,696.4) scale(1.06,1)" font-size="8.6" text-anchor="start" fill="#231f20">Number at risk</text>
<text transform="translate(68.5,708) scale(1.08,1)" font-size="8.6" text-anchor="end" fill="#231f20">Treated</text>
<text transform="translate(68.5,720.3) scale(1.08,1)" font-size="8.6" text-anchor="end" fill="#231f20">control</text>
<text transform="translate(91.2,708) scale(1.08,1)" font-size="8.6" text-anchor="middle" fill="#231f20">33</text>
<text transform="translate(91.2,720.3) scale(1.08,1)" font-size="8.6" text-anchor="middle" fill="#231f20">135</text>
<text transform="translate(142.82,708) scale(1.08,1)" font-size="8.6" text-anchor="middle" fill="#231f20">27</text>
<text transform="translate(142.82,720.3) scale(1.08,1)" font-size="8.6" text-anchor="middle" fill="#231f20">31</text>
<text transform="translate(194.44,708) scale(1.08,1)" font-size="8.6" text-anchor="middle" fill="#231f20">26</text>
<text transform="translate(194.44,720.3) scale(1.08,1)" font-size="8.6" text-anchor="middle" fill="#231f20">26</text>
<text transform="translate(246.06,708) scale(1.08,1)" font-size="8.6" text-anchor="middle" fill="#231f20">23</text>
<text transform="translate(246.06,720.3) scale(1.08,1)" font-size="8.6" text-anchor="middle" fill="#231f20">21</text>
<text transform="translate(297.68,708) scale(1.08,1)" font-size="8.6" text-anchor="middle" fill="#231f20">21</text>
<text transform="translate(297.68,720.3) scale(1.08,1)" font-size="8.6" text-anchor="middle" fill="#231f20">17</text>
<text transform="translate(349.29999999999995,708) scale(1.08,1)" font-size="8.6" text-anchor="middle" fill="#231f20">16</text>
<text transform="translate(349.29999999999995,720.3) scale(1.08,1)" font-size="8.6" text-anchor="middle" fill="#231f20">16</text>
<text transform="translate(10.4,750.7) scale(0.93,1)" font-size="17.6" text-anchor="start" fill="#000" font-weight="bold" >F</text>
<text transform="translate(216.7,750.8) scale(1.03,1)" font-size="12.8" text-anchor="middle" fill="#231f20"><tspan font-style="italic">CD46</tspan>, treated vs control</text>
<line x1="79" y1="759.3" x2="79" y2="956.75" stroke="#231f20" stroke-width="1.9" stroke-linecap="butt"/>
<line x1="78.05" y1="955.8" x2="354.8" y2="955.8" stroke="#231f20" stroke-width="1.9" stroke-linecap="butt"/>
<line x1="74.2" y1="763.6999999999999" x2="79" y2="763.6999999999999" stroke="#231f20" stroke-width="1.2" stroke-linecap="butt"/>
<text transform="translate(70.0,766.8499999999999) scale(0.97,1)" font-size="9.8" text-anchor="end" fill="#231f20" >1.0</text>
<line x1="74.2" y1="781.9599999999999" x2="79" y2="781.9599999999999" stroke="#231f20" stroke-width="1.2" stroke-linecap="butt"/>
<text transform="translate(70.0,785.1099999999999) scale(0.97,1)" font-size="9.8" text-anchor="end" fill="#231f20" >0.9</text>
<line x1="74.2" y1="800.2199999999999" x2="79" y2="800.2199999999999" stroke="#231f20" stroke-width="1.2" stroke-linecap="butt"/>
<text transform="translate(70.0,803.3699999999999) scale(0.97,1)" font-size="9.8" text-anchor="end" fill="#231f20" >0.8</text>
<line x1="74.2" y1="818.4799999999999" x2="79" y2="818.4799999999999" stroke="#231f20" stroke-width="1.2" stroke-linecap="butt"/>
<text transform="translate(70.0,821.6299999999999) scale(0.97,1)" font-size="9.8" text-anchor="end" fill="#231f20" >0.7</text>
<line x1="74.2" y1="836.7399999999999" x2="79" y2="836.7399999999999" stroke="#231f20" stroke-width="1.2" stroke-linecap="butt"/>
<text transform="translate(70.0,839.8899999999999) scale(0.97,1)" font-size="9.8" text-anchor="end" fill="#231f20" >0.6</text>
<line x1="74.2" y1="855.0" x2="79" y2="855.0" stroke="#231f20" stroke-width="1.2" stroke-linecap="butt"/>
<text transform="translate(70.0,858.15) scale(0.97,1)" font-size="9.8" text-anchor="end" fill="#231f20" >0.5</text>
<line x1="74.2" y1="873.26" x2="79" y2="873.26" stroke="#231f20" stroke-width="1.2" stroke-linecap="butt"/>
<text transform="translate(70.0,876.41) scale(0.97,1)" font-size="9.8" text-anchor="end" fill="#231f20" >0.4</text>
<line x1="74.2" y1="891.52" x2="79" y2="891.52" stroke="#231f20" stroke-width="1.2" stroke-linecap="butt"/>
<text transform="translate(70.0,894.67) scale(0.97,1)" font-size="9.8" text-anchor="end" fill="#231f20" >0.3</text>
<line x1="74.2" y1="909.78" x2="79" y2="909.78" stroke="#231f20" stroke-width="1.2" stroke-linecap="butt"/>
<text transform="translate(70.0,912.93) scale(0.97,1)" font-size="9.8" text-anchor="end" fill="#231f20" >0.2</text>
<line x1="74.2" y1="928.04" x2="79" y2="928.04" stroke="#231f20" stroke-width="1.2" stroke-linecap="butt"/>
<text transform="translate(70.0,931.1899999999999) scale(0.97,1)" font-size="9.8" text-anchor="end" fill="#231f20" >0.1</text>
<line x1="74.2" y1="946.3" x2="79" y2="946.3" stroke="#231f20" stroke-width="1.2" stroke-linecap="butt"/>
<text transform="translate(70.0,949.4499999999999) scale(0.97,1)" font-size="9.8" text-anchor="end" fill="#231f20" >0.0</text>
<line x1="92.6" y1="955.8" x2="92.6" y2="960.1999999999999" stroke="#231f20" stroke-width="1.2" stroke-linecap="butt"/>
<text transform="translate(92.6,973.6) scale(0.88,1)" font-size="10.0" text-anchor="middle" fill="#231f20" >0</text>
<line x1="144.1" y1="955.8" x2="144.1" y2="960.1999999999999" stroke="#231f20" stroke-width="1.2" stroke-linecap="butt"/>
<text transform="translate(144.1,973.6) scale(0.88,1)" font-size="10.0" text-anchor="middle" fill="#231f20" >1</text>
<line x1="195.6" y1="955.8" x2="195.6" y2="960.1999999999999" stroke="#231f20" stroke-width="1.2" stroke-linecap="butt"/>
<text transform="translate(195.6,973.6) scale(0.88,1)" font-size="10.0" text-anchor="middle" fill="#231f20" >2</text>
<line x1="247.1" y1="955.8" x2="247.1" y2="960.1999999999999" stroke="#231f20" stroke-width="1.2" stroke-linecap="butt"/>
<text transform="translate(247.1,973.6) scale(0.88,1)" font-size="10.0" text-anchor="middle" fill="#231f20" >3</text>
<line x1="298.6" y1="955.8" x2="298.6" y2="960.1999999999999" stroke="#231f20" stroke-width="1.2" stroke-linecap="butt"/>
<text transform="translate(298.6,973.6) scale(0.88,1)" font-size="10.0" text-anchor="middle" fill="#231f20" >4</text>
<line x1="350.1" y1="955.8" x2="350.1" y2="960.1999999999999" stroke="#231f20" stroke-width="1.2" stroke-linecap="butt"/>
<text transform="translate(350.1,973.6) scale(0.88,1)" font-size="10.0" text-anchor="middle" fill="#231f20" >5</text>
<text transform="translate(49.1,897.3) rotate(-90) scale(1.0,1)" font-size="14.2" text-anchor="start" fill="#231f20" textLength="80.2" lengthAdjust="spacingAndGlyphs" >ESKD free survival</text>
<text x="148.0" y="991.0" font-size="13" text-anchor="start" fill="#231f20" textLength="136.0" lengthAdjust="spacingAndGlyphs" >Time from presentation (years)</text>
<path d="M92.6,763.6999999999999V788.1684H350.1" fill="none" stroke="#233f70" stroke-width="1.3" opacity="1"/>
<path d="M94.6,772.8299999999999H350.1" fill="none" stroke="#233f70" stroke-width="1.3" stroke-dasharray="1.5 1.5" opacity="1"/>
<path d="M144.1,786.1684V790.1684" stroke="#233f70" stroke-width="1.0" fill="none"/>
<path d="M195.6,786.1684V790.1684" stroke="#233f70" stroke-width="1.0" fill="none"/>
<path d="M247.1,786.1684V790.1684" stroke="#233f70" stroke-width="1.0" fill="none"/>
<path d="M298.6,786.1684V790.1684" stroke="#233f70" stroke-width="1.0" fill="none"/>
<path d="M350.1,786.1684V790.1684" stroke="#233f70" stroke-width="1.0" fill="none"/>
<path d="M194.1,771.3299999999999L197.1,774.3299999999999M194.1,774.3299999999999L197.1,771.3299999999999" stroke="#233f70" stroke-width="0.9" fill="none"/>
<path d="M245.6,771.3299999999999L248.6,774.3299999999999M245.6,774.3299999999999L248.6,771.3299999999999" stroke="#233f70" stroke-width="0.9" fill="none"/>
<path d="M297.1,771.3299999999999L300.1,774.3299999999999M297.1,774.3299999999999L300.1,771.3299999999999" stroke="#233f70" stroke-width="0.9" fill="none"/>
<path d="M348.6,771.3299999999999L351.6,774.3299999999999M348.6,774.3299999999999L351.6,771.3299999999999" stroke="#233f70" stroke-width="0.9" fill="none"/>
<text transform="translate(94.6,934.3) scale(1.06,1)" font-size="8.5" text-anchor="start" fill="#231f20"><tspan font-style="italic">CD46</tspan> Treated vs Control: <tspan font-style="italic">P</tspan> = .274</text>
<path d="M401.5,768.1999999999999H406V765.6999999999999H411.5V768.5" fill="none" stroke="#233f70" stroke-width="1.9" opacity="1"/>
<rect x="400.85" y="776.25" width="1.3" height="1.3" fill="#233f70"/>
<rect x="402.85" y="776.25" width="1.3" height="1.3" fill="#233f70"/>
<rect x="404.95" y="776.25" width="1.3" height="1.3" fill="#233f70"/>
<rect x="404.95" y="774.05" width="1.3" height="1.3" fill="#233f70"/>
<rect x="407.55" y="774.05" width="1.3" height="1.3" fill="#233f70"/>
<rect x="410.25" y="774.05" width="1.3" height="1.3" fill="#233f70"/>
<rect x="410.25" y="776.65" width="1.3" height="1.3" fill="#233f70"/>
<path d="M406.4,782.2V787.8M403.2,785.0H409.6" stroke="#233f70" stroke-width="1.8"/>
<path d="M404.2,791.6L408.8,796.1999999999999M404.2,796.1999999999999L408.8,791.6" stroke="#233f70" stroke-width="1.7" fill="none"/>
<text transform="translate(416.6,769.8) scale(1.1,1)" font-size="8.1" text-anchor="start" fill="#231f20"><tspan font-style="italic">CD46</tspan> control</text>
<text transform="translate(416.6,778.8) scale(1.1,1)" font-size="8.1" text-anchor="start" fill="#231f20"><tspan font-style="italic">CD46</tspan> treated</text>
<text transform="translate(416.6,787.9) scale(1.1,1)" font-size="8.1" text-anchor="start" fill="#231f20"><tspan font-style="italic">CD46</tspan> control-censored</text>
<text transform="translate(416.6,796.8) scale(1.1,1)" font-size="8.1" text-anchor="start" fill="#231f20"><tspan font-style="italic">CD46</tspan> treated-censored</text>
<text transform="translate(9.8,1004.0) scale(1.06,1)" font-size="8.6" text-anchor="start" fill="#231f20">Number at risk</text>
<text transform="translate(68.5,1015.7) scale(1.08,1)" font-size="8.6" text-anchor="end" fill="#231f20">Treated</text>
<text transform="translate(68.5,1027.6) scale(1.08,1)" font-size="8.6" text-anchor="end" fill="#231f20">control</text>
<text transform="translate(92.6,1015.7) scale(1.08,1)" font-size="8.6" text-anchor="middle" fill="#231f20">23</text>
<text transform="translate(92.6,1027.6) scale(1.08,1)" font-size="8.6" text-anchor="middle" fill="#231f20">64</text>
<text transform="translate(144.1,1015.7) scale(1.08,1)" font-size="8.6" text-anchor="middle" fill="#231f20">22</text>
<text transform="translate(144.1,1027.6) scale(1.08,1)" font-size="8.6" text-anchor="middle" fill="#231f20">56</text>
<text transform="translate(195.6,1015.7) scale(1.08,1)" font-size="8.6" text-anchor="middle" fill="#231f20">22</text>
<text transform="translate(195.6,1027.6) scale(1.08,1)" font-size="8.6" text-anchor="middle" fill="#231f20">50</text>
<text transform="translate(247.1,1015.7) scale(1.08,1)" font-size="8.6" text-anchor="middle" fill="#231f20">21</text>
<text transform="translate(247.1,1027.6) scale(1.08,1)" font-size="8.6" text-anchor="middle" fill="#231f20">48</text>
<text transform="translate(298.6,1015.7) scale(1.08,1)" font-size="8.6" text-anchor="middle" fill="#231f20">19</text>
<text transform="translate(298.6,1027.6) scale(1.08,1)" font-size="8.6" text-anchor="middle" fill="#231f20">43</text>
<text transform="translate(350.1,1015.7) scale(1.08,1)" font-size="8.6" text-anchor="middle" fill="#231f20">14</text>
<text transform="translate(350.1,1027.6) scale(1.08,1)" font-size="8.6" text-anchor="middle" fill="#231f20">38</text>
<rect x="0.5" y="0.5" width="519" height="1039" fill="none" stroke="#231f20" stroke-width="1.2"/>
</svg>
</body></html>
